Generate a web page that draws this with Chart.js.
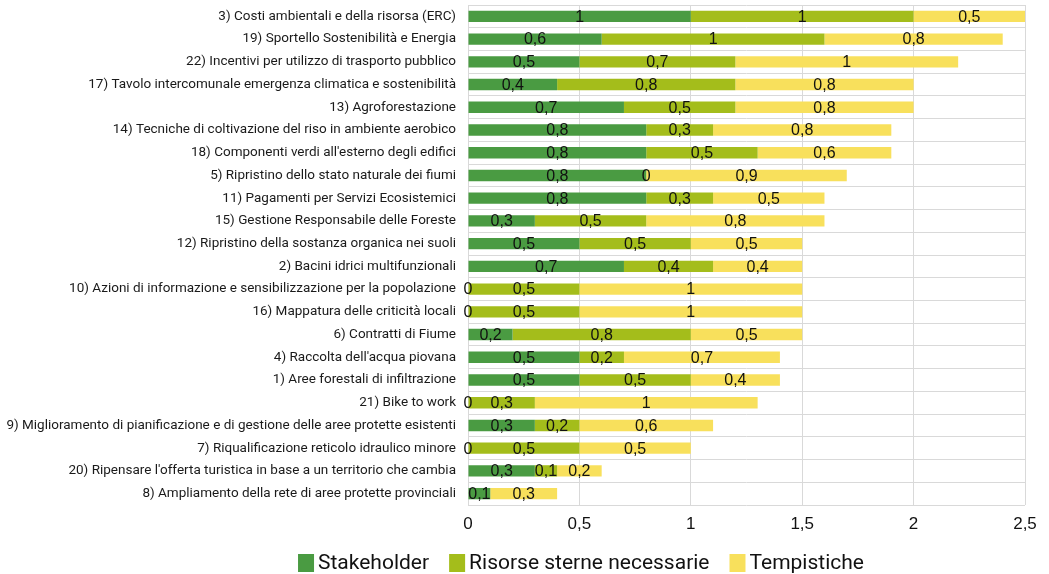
<!DOCTYPE html>
<html>
<head>
<meta charset="utf-8">
<script src="https://cdn.jsdelivr.net/npm/chart.js@4.4.1/dist/chart.umd.min.js"></script>
<style>
  html, body { margin: 0; padding: 0; background: #fff; }
  #wrap { width: 1049px; height: 574px; }
</style>
</head>
<body>
<div id="wrap"><canvas id="c" width="1049" height="574"></canvas></div>
<script>
const categories = [
  "3) Costi ambientali e della risorsa (ERC)",
  "19) Sportello Sostenibilità e Energia",
  "22) Incentivi per utilizzo di trasporto pubblico",
  "17) Tavolo intercomunale emergenza climatica e sostenibilità",
  "13) Agroforestazione",
  "14) Tecniche di coltivazione del riso in ambiente aerobico",
  "18) Componenti verdi all'esterno degli edifici",
  "5) Ripristino dello stato naturale dei fiumi",
  "11) Pagamenti per Servizi Ecosistemici",
  "15) Gestione Responsabile delle Foreste",
  "12) Ripristino della sostanza organica nei suoli",
  "2) Bacini idrici multifunzionali",
  "10) Azioni di informazione e sensibilizzazione per la popolazione",
  "16) Mappatura delle criticità locali",
  "6) Contratti di Fiume",
  "4) Raccolta dell'acqua piovana",
  "1) Aree forestali di infiltrazione",
  "21) Bike to work",
  "9) Miglioramento di pianificazione e di gestione delle aree protette esistenti",
  "7) Riqualificazione reticolo idraulico minore",
  "20) Ripensare l'offerta turistica in base a un territorio che cambia",
  "8) Ampliamento della rete di aree protette provinciali"
];

const stakeholder = [1, 0.6, 0.5, 0.4, 0.7, 0.8, 0.8, 0.8, 0.8, 0.3, 0.5, 0.7, 0, 0, 0.2, 0.5, 0.5, 0, 0.3, 0, 0.3, 0.1];
const risorse     = [1, 1, 0.7, 0.8, 0.5, 0.3, 0.5, 0, 0.3, 0.5, 0.5, 0.4, 0.5, 0.5, 0.8, 0.2, 0.5, 0.3, 0.2, 0.5, 0.1, 0];
const tempistiche = [0.5, 0.8, 1, 0.8, 0.8, 0.8, 0.6, 0.9, 0.5, 0.8, 0.5, 0.4, 1, 1, 0.5, 0.7, 0.4, 1, 0.6, 0.5, 0.2, 0.3];

const seriesNames = ["Stakeholder", "Risorse sterne necessarie", "Tempistiche"];
const seriesColors = ['#4a9b42', '#a4bd1b', '#f8e05c'];
const xTicks = [0, 0.5, 1, 1.5, 2, 2.5];

const fmt = v => String(v).replace('.', ',');
const labelFont = 'Roboto, "Noto Sans", sans-serif';

// Writes each segment's value at the middle of the segment,
// leaving out a label that would collide with one already written in its row
const segmentLabels = {
  id: 'segmentLabels',
  afterDatasetsDraw(chart) {
    const ctx = chart.ctx;
    ctx.save();
    ctx.font = '16px "Liberation Sans", Arial, sans-serif';
    ctx.fillStyle = '#111';
    ctx.textAlign = 'center';
    ctx.textBaseline = 'middle';
    const placed = {};
    chart.data.datasets.forEach((ds, di) => {
      const meta = chart.getDatasetMeta(di);
      meta.data.forEach((el, i) => {
        const p = el.getProps(['x', 'y', 'base'], true);
        const txt = fmt(ds.data[i]);
        const cx = (p.x + p.base) / 2;
        const w = ctx.measureText(txt).width;
        const box = [cx - w / 2, cx + w / 2];
        placed[i] = placed[i] || [];
        if (placed[i].some(b => box[0] < b[1] - 1 && box[1] > b[0] + 1)) return;
        placed[i].push(box);
        ctx.fillText(txt, cx, p.y + 1);
      });
    });
    ctx.restore();
  }
};

// Legend row under the axis: colour swatch followed by the series name
const bottomLegend = {
  id: 'bottomLegend',
  afterDraw(chart) {
    const ctx = chart.ctx;
    ctx.save();
    ctx.font = '21px ' + labelFont;
    ctx.textBaseline = 'middle';
    ctx.textAlign = 'left';
    const boxW = 16, boxH = 18, gapText = 4, gapItem = 20;
    const widths = seriesNames.map(n => boxW + gapText + ctx.measureText(n).width);
    const total = widths.reduce((a, b) => a + b, 0) + gapItem * (seriesNames.length - 1);
    let x = 581 - total / 2;
    const y = 563;
    seriesNames.forEach((n, k) => {
      ctx.fillStyle = seriesColors[k];
      ctx.fillRect(x, y - boxH / 2, boxW, boxH);
      ctx.fillStyle = '#111';
      ctx.fillText(n, x + boxW + gapText, y + 1);
      x += widths[k] + gapItem;
    });
    ctx.restore();
  }
};

new Chart(document.getElementById('c'), {
  type: 'bar',
  data: {
    labels: categories,
    datasets: [
      { label: seriesNames[0], data: stakeholder, backgroundColor: seriesColors[0] },
      { label: seriesNames[1], data: risorse, backgroundColor: seriesColors[1] },
      { label: seriesNames[2], data: tempistiche, backgroundColor: seriesColors[2] }
    ]
  },
  options: {
    indexAxis: 'y',
    responsive: false,
    animation: false,
    devicePixelRatio: 1,
    layout: { padding: { top: 5, right: 24, bottom: 35, left: 0 } },
    datasets: { bar: { barPercentage: 0.5, categoryPercentage: 1 } },
    scales: {
      x: {
        stacked: true,
        min: 0, max: 2.5,
        afterBuildTicks(axis) { axis.ticks = xTicks.map(v => ({ value: v })); },
        afterFit(axis) {
          axis.height = 34;
          axis.paddingLeft = 0; axis.paddingRight = 0;
        },
        ticks: {
          callback: v => fmt(v),
          color: '#111',
          font: { family: '"Liberation Sans", Arial, sans-serif', size: 17 },
          padding: 9
        },
        grid: { color: '#d9d9d9', drawTicks: false },
        border: { display: false }
      },
      y: {
        stacked: true,
        afterFit(axis) {
          axis.width = 468;
          axis.paddingTop = 0; axis.paddingBottom = 0;
        },
        ticks: {
          color: '#1a1a1a',
          font: { family: labelFont, size: 13.5 },
          padding: 12
        },
        grid: { color: '#d9d9d9', drawTicks: false, offset: true },
        border: { display: false }
      }
    },
    plugins: {
      legend: { display: false },
      tooltip: { enabled: false }
    }
  },
  plugins: [segmentLabels, bottomLegend]
});
</script>
</body>
</html>
